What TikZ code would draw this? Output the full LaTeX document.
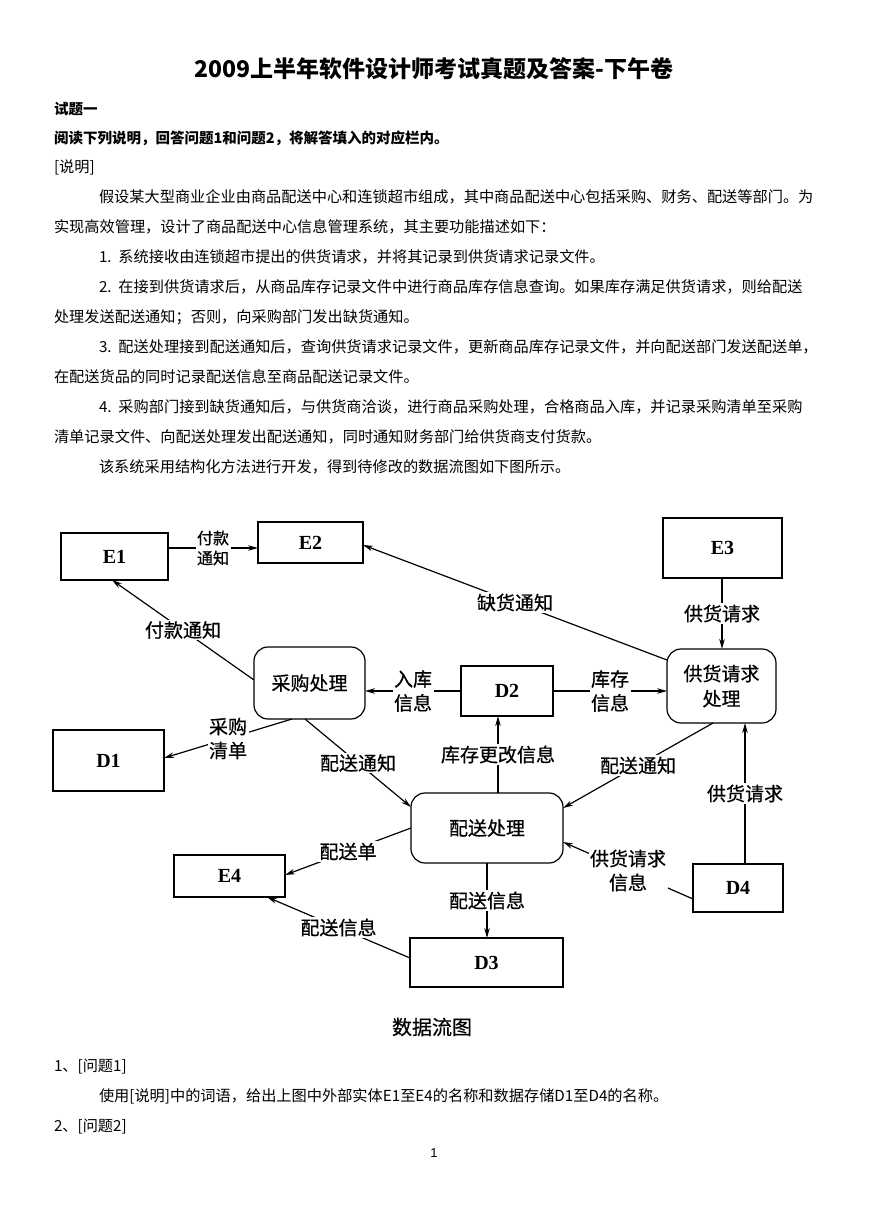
\documentclass[tikz,border=0pt]{standalone}
\usepackage{fontspec}
\setmainfont{Liberation Serif}
\newfontfamily\cjk{Noto Sans CJK SC}
\newfontfamily\cjkm[FakeBold=0.6]{Noto Sans CJK SC}
\usetikzlibrary{arrows.meta}
\begin{document}
\begin{tikzpicture}[x=1pt,y=-1pt,
  every node/.style={inner sep=0pt, outer sep=0pt},
  body/.style={anchor=west, font=\cjk\fontsize{15.2}{18}\selectfont},
  bodyb/.style={anchor=west, font=\cjk\bfseries\fontsize{14.5}{18}\selectfont},
  ent/.style={draw, line width=1.2pt, font=\fontsize{20}{22}\selectfont\bfseries},
  proc/.style={draw, line width=1.2pt, rounded corners=14pt, align=center,
    font=\cjkm\fontsize{19}{25}\selectfont},
  lbl/.style={fill=white, align=center, inner sep=1.5pt,
    font=\cjkm\fontsize{19}{24}\selectfont},
  slbl/.style={fill=white, align=center, inner sep=1.5pt,
    font=\cjkm\fontsize{16}{20}\selectfont},
  flow/.style={line width=1.2pt, -{Stealth[length=10pt,width=5.5pt]}}
]
\useasboundingbox[fill=white] (0,0) rectangle (869,1228);

% ---- header text ----
\node[font=\cjk\bfseries\fontsize{23}{26}\selectfont] (title) at (434,69) {2009上半年软件设计师考试真题及答案-下午卷};
\node[bodyb] (t1) at (54,109) {试题一};
\node[bodyb] (t2) at (54,138) {阅读下列说明，回答问题1和问题2，将解答填入的对应栏内。};
\node[body] (t3) at (54,167) {[说明]};
\node[body] (l1) at (99,197) {假设某大型商业企业由商品配送中心和连锁超市组成，其中商品配送中心包括采购、财务、配送等部门。为};
\node[body] (l2) at (54,227) {实现高效管理，设计了商品配送中心信息管理系统，其主要功能描述如下：};
\node[body] (l3) at (99,257) {1.\ \ 系统接收由连锁超市提出的供货请求，并将其记录到供货请求记录文件。};
\node[body] (l4) at (99,287) {2.\ \ 在接到供货请求后，从商品库存记录文件中进行商品库存信息查询。如果库存满足供货请求，则给配送};
\node[body] (l5) at (54,317) {处理发送配送通知；否则，向采购部门发出缺货通知。};
\node[body] (l6) at (99,347) {3.\ \ 配送处理接到配送通知后，查询供货请求记录文件，更新商品库存记录文件，并向配送部门发送配送单，};
\node[body] (l7) at (54,377) {在配送货品的同时记录配送信息至商品配送记录文件。};
\node[body] (l8) at (99,407) {4.\ \ 采购部门接到缺货通知后，与供货商洽谈，进行商品采购处理，合格商品入库，并记录采购清单至采购};
\node[body] (l9) at (54,437) {清单记录文件、向配送处理发出配送通知，同时通知财务部门给供货商支付货款。};
\node[body] (l10) at (99,467) {该系统采用结构化方法进行开发，得到待修改的数据流图如下图所示。};

% ---- diagram nodes ----
\node[ent, minimum width=107pt, minimum height=47pt] (E1) at (114.5,556.5) {E1};
\node[ent, minimum width=105pt, minimum height=41pt] (E2) at (310.5,542.5) {E2};
\node[ent, minimum width=119pt, minimum height=60pt] (E3) at (722.5,548) {E3};
\node[ent, minimum width=111pt, minimum height=61pt] (D1) at (108.5,760.5) {D1};
\node[ent, minimum width=92pt, minimum height=50pt] (D2) at (507,691) {D2};
\node[ent, minimum width=90pt, minimum height=48pt] (D4) at (738,888) {D4};
\node[ent, minimum width=111pt, minimum height=42pt] (E4) at (229.5,876) {E4};
\node[ent, minimum width=153pt, minimum height=49pt] (D3) at (486.5,962.5) {D3};
\node[proc, minimum width=111pt, minimum height=72pt] (cg) at (309.5,683) {采购处理};
\node[proc, minimum width=109pt, minimum height=74pt] (gp) at (721.5,686) {供货请求\\处理};
\node[proc, minimum width=152pt, minimum height=70pt] (pp) at (487,828) {配送处理};

% ---- flows ----
\draw[flow] (E1.east |- 0,548) -- node[slbl] (f1) {付款\\通知} (E2.west |- 0,548);
\draw[flow] (gp.west |- 0,660) -- node[lbl] (f2) {缺货通知} (E2.east |- 0,545);
\draw[flow] (E3.south -| 722,0) -- node[lbl] (f3) {供货请求} (gp.north -| 722,0);
\draw[flow] (D2.east) -- node[lbl] (f4) {库存\\信息} (D2.east -| gp.west);
\draw[flow] (D2.west) -- node[lbl] (f5) {入库\\信息} (D2.west -| cg.east);
\draw[flow] (pp.north -| 498,0) -- node[lbl] (f6) {库存更改信息} (D2.south -| 498,0);
\draw[flow] (cg.west |- 0,680) -- node[lbl] (f7) {付款通知} (E1.south -| 112,0);
\draw[flow] (cg.south -| 292,0) -- node[lbl] (f8) {采购\\清单} (D1.east |- 0,758);
\draw[flow] (cg.south -| 305,0) -- node[lbl] (f9) {配送通知} (pp.west |- 0,807);
\draw[flow] (gp.south -| 713,0) -- node[lbl] (f10) {配送通知} (pp.east |- 0,808);
\draw[flow] (D4.north -| 745,0) -- node[lbl] (f11) {供货请求} (gp.south -| 745,0);
\draw[flow] (D4.west |- 0,899) -- node[lbl] (f12) {供货请求\\信息} (pp.east |- 0,842);
\draw[flow] (pp.west |- 0,828) -- node[lbl] (f13) {配送单} (E4.east |- 0,875);
\draw[flow] (D3.west |- 0,958) -- node[lbl] (f14) {配送信息} (E4.south -| 267,0);
\draw[flow] (pp.south -| 487,0) -- node[lbl] (f15) {配送信息} (D3.north -| 487,0);

\node[font=\cjkm\fontsize{20}{22}\selectfont] (cap) at (432,1027) {数据流图};

% ---- footer text ----
\node[body] (q1) at (54,1066) {1、[问题1]};
\node[body] (q1t) at (99,1096) {使用[说明]中的词语，给出上图中外部实体E1至E4的名称和数据存储D1至D4的名称。};
\node[body] (q2) at (54,1126) {2、[问题2]};
\node[font=\fontspec{Liberation Sans}\fontsize{13}{15}\selectfont] (pg) at (434,1153) {1};
\end{tikzpicture}
\end{document}
